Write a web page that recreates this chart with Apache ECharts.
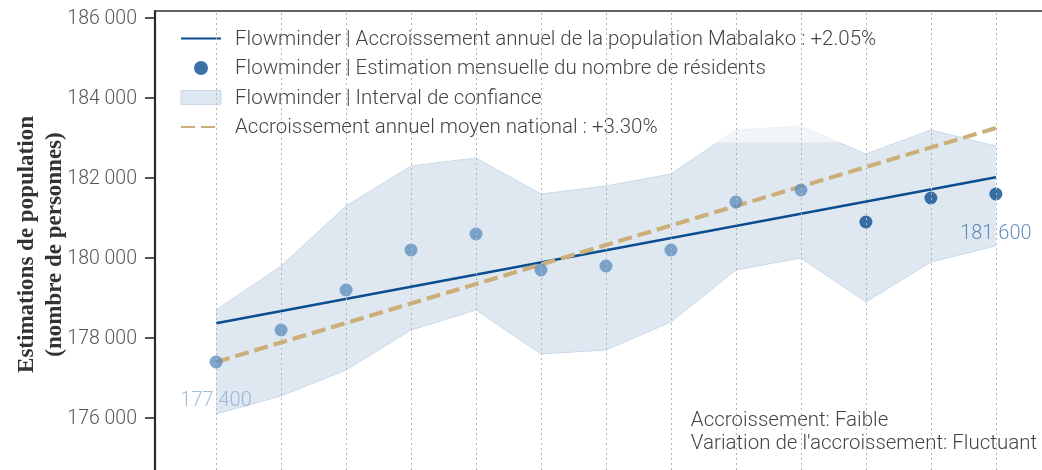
<!DOCTYPE html>
<html>
<head>
<meta charset="utf-8">
<script src="https://cdn.jsdelivr.net/npm/echarts@6/dist/echarts.min.js"></script>
<style>
  html, body { margin: 0; padding: 0; background: #fff; }
  #chart { width: 1042px; height: 470px; }
</style>
</head>
<body>
<div id="chart"></div>
<script>
// Monthly population estimates for Mabalako (month index 0..12)
const months = [0, 1, 2, 3, 4, 5, 6, 7, 8, 9, 10, 11, 12];
const estimates = [177400, 178200, 179200, 180200, 180600, 179700, 179800, 180200, 181400, 181700, 180900, 181500, 181600];
const ciUpper = [178700, 179800, 181300, 182300, 182500, 181600, 181800, 182100, 183200, 183300, 182600, 183200, 182800];
const ciLower = [176100, 176550, 177200, 178200, 178700, 177600, 177700, 178400, 179700, 180000, 178900, 179900, 180300];

// Growth lines, given by their start and end month
const trendMonths = [0, 12];
const trendMabalako = [178370, 182020];
const trendNational = [177400, 183250];

// Y-axis tick values
const yTicks = [176000, 178000, 180000, 182000, 184000, 186000];

// Months drawn with the darker marker
const recentFrom = 10;

const NAME_TREND = 'Flowminder | Accroissement annuel de la population Mabalako : +2.05%';
const NAME_EST = 'Flowminder | Estimation mensuelle du nombre de résidents';
const NAME_CI = 'Flowminder | Interval de confiance';
const NAME_NAT = 'Accroissement annuel moyen national : +3.30%';

const fmt = v => String(Math.round(v)).replace(/\B(?=(\d{3})+(?!\d))/g, ' ');

const SANS = "'Roboto Light', Roboto, sans-serif";
const DARK = '#0a4d91';
const LIGHT = '#5f90c1';
const EDGE = '#c9d9e8';
const TAN = '#cbae78';

const chart = echarts.init(document.getElementById('chart'), null, { renderer: 'canvas' });

const estData = estimates.map((v, i) => {
  const item = { value: [months[i], v], itemStyle: { color: i < recentFrom ? LIGHT : DARK } };
  if (i === 0 || i === estimates.length - 1) {
    item.label = {
      show: true, position: 'bottom', distance: i === 0 ? 22 : 23,
      formatter: p => fmt(p.value[1]),
      color: i === 0 ? '#87acd0' : '#3b74aa',
      fontFamily: SANS, fontWeight: 300, fontSize: 20
    };
  }
  return item;
});

chart.setOption({
  animation: false,
  grid: { left: 155, right: 0, top: 11, bottom: 0, containLabel: false, outerBoundsMode: 'none' },
  xAxis: {
    type: 'value', min: -0.94, max: 12.71, position: 'top',
    axisLine: { show: true, onZero: false, lineStyle: { color: '#333', width: 1.5 } },
    axisTick: { show: false }, axisLabel: { show: false }, splitLine: { show: false }
  },
  yAxis: {
    type: 'value', min: 174700, max: 186175, position: 'left',
    axisLine: { show: true, onZero: false, lineStyle: { color: '#2a2a2a', width: 2.2 } },
    axisTick: { show: true, inside: false, length: 10, customValues: yTicks, lineStyle: { color: '#2a2a2a', width: 1.6 } },
    axisLabel: { customValues: yTicks, formatter: fmt, color: '#555', fontFamily: SANS, fontWeight: 300, fontSize: 19.5, margin: 18 },
    splitLine: { show: false },
    name: 'Estimations de population\n(nombre de personnes)',
    nameLocation: 'middle', nameGap: 86, nameRotate: 90, nameMoveOverlap: false,
    nameTextStyle: { fontFamily: 'Liberation Serif', fontWeight: 'bold', fontSize: 23, lineHeight: 28, color: '#333', padding: [0, 8, 0, 0] }
  },
  legend: {
    orient: 'vertical', left: 165, top: 12, padding: [16, 14, 5, 15],
    itemWidth: 40, itemHeight: 14, itemGap: 8.5, selectedMode: false,
    backgroundColor: 'rgba(255,255,255,0.6)',
    textStyle: { fontFamily: SANS, fontWeight: 300, fontSize: 20.5, color: '#444', padding: [0, 0, 0, 9] },
    data: [
      { name: NAME_TREND, itemStyle: { opacity: 0 } },
      NAME_EST,
      { name: NAME_CI, icon: 'rect', itemStyle: { color: '#dce7f1', borderColor: EDGE, borderWidth: 1 } },
      { name: NAME_NAT, itemStyle: { opacity: 0 } }
    ]
  },
  graphic: [{
    type: 'text', right: 5, top: 408,
    style: {
      text: 'Accroissement: Faible\nVariation de l\'accroissement: Fluctuant',
      align: 'right', font: "300 20.5px 'Roboto Light', Roboto, sans-serif", fill: '#444', lineHeight: 23
    }
  }],
  series: [
    {
      // confidence band: one polygon between the upper and lower bounds
      name: NAME_CI, type: 'custom', silent: true, z: 1, color: '#dce7f1',
      data: months.map((m, i) => [m, ciLower[i], ciUpper[i]]),
      encode: { x: 0, y: [1, 2] },
      renderItem: (params, api) => {
        if (params.dataIndex !== 0) return null;
        const up = months.map((m, i) => api.coord([m, ciUpper[i]]));
        const lo = months.map((m, i) => api.coord([m, ciLower[i]]));
        return {
          type: 'group',
          children: [
            { type: 'polygon', shape: { points: up.concat(lo.slice().reverse()) }, style: { fill: 'rgba(11,79,150,0.13)' } },
            { type: 'polyline', shape: { points: up }, style: { stroke: EDGE, lineWidth: 1, fill: null } },
            { type: 'polyline', shape: { points: lo }, style: { stroke: EDGE, lineWidth: 1, fill: null } }
          ]
        };
      }
    },
    {
      name: NAME_TREND, type: 'line', symbol: 'none', z: 3,
      color: DARK,
      data: trendMonths.map((m, i) => [m, trendMabalako[i]]),
      lineStyle: { color: DARK, width: 2.5 },
      markLine: {
        silent: true, symbol: ['none', 'none'], label: { show: false },
        lineStyle: { color: '#b3b3b3', width: 1, type: [2, 3] },
        data: months.map(m => ({ xAxis: m }))
      }
    },
    {
      name: NAME_NAT, type: 'line', symbol: 'none', z: 3,
      color: TAN,
      data: trendMonths.map((m, i) => [m, trendNational[i]]),
      lineStyle: { color: TAN, width: 4, type: [14, 6] }
    },
    {
      name: NAME_EST, type: 'scatter', symbol: 'circle', symbolSize: 13, z: 4,
      color: DARK,
      itemStyle: { color: DARK },
      data: estData
    }
  ]
});
</script>
</body>
</html>
